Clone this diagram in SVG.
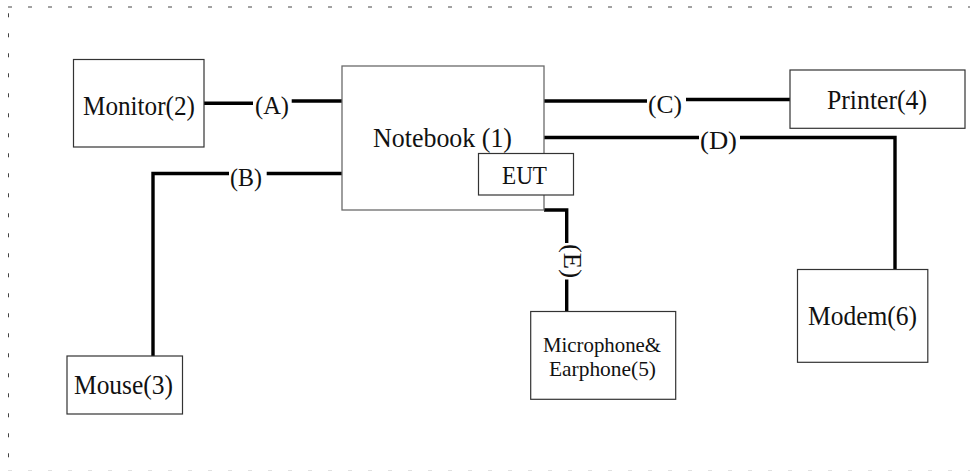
<svg xmlns="http://www.w3.org/2000/svg" width="970" height="471" viewBox="0 0 970 471">
<style>
.bg{fill:#ffffff}
.frame{stroke:#444;stroke-width:1;fill:none;stroke-dasharray:4 16}
.box{fill:#ffffff;stroke:#333;stroke-width:1.2}
.box2{fill:#ffffff;stroke:#6a6a6a;stroke-width:1.3}
.wire{stroke:#000;stroke-width:3.4;fill:none;stroke-linejoin:miter;stroke-linecap:butt}
text{font-family:'Liberation Serif',serif;fill:#111}
.lbl{font-size:27px}
.cl{font-size:26px}
.sm{font-size:21px}
</style>
<rect class="bg" x="0" y="0" width="970" height="471"/>
<g id="frame">
<line class="frame" x1="8" y1="7" x2="970" y2="7"/>
<line class="frame" x1="8.5" y1="13.3" x2="8.5" y2="471"/>
<line class="frame" x1="8" y1="470.5" x2="970" y2="470.5" style="stroke:#e0e0e0"/>
</g>
<g id="connectors">
<path class="wire" d="M204,103.3 H253"/>
<path class="wire" d="M291.7,101 H342"/>
<text class="cl" x="255" y="113.5" textLength="34" lengthAdjust="spacingAndGlyphs">(A)</text>
<path class="wire" d="M229,173.5 H153 V356"/>
<path class="wire" d="M266.7,173.5 H342"/>
<text class="cl" x="230" y="185.5" textLength="32" lengthAdjust="spacingAndGlyphs">(B)</text>
<path class="wire" d="M544,101 H647"/>
<path class="wire" d="M686,99.5 H790"/>
<text class="cl" x="648" y="112.5" textLength="34" lengthAdjust="spacingAndGlyphs">(C)</text>
<path class="wire" d="M544,137.5 H699"/>
<path class="wire" d="M740,137.5 H895 V269.5"/>
<text class="cl" x="700" y="148.5" textLength="37" lengthAdjust="spacingAndGlyphs">(D)</text>
<path class="wire" d="M544,210 H566.7 V243"/>
<path class="wire" d="M566.7,279.5 V311.5"/>
<text class="cl" transform="translate(570,261) rotate(90)" x="0" y="6.3" text-anchor="middle" textLength="34" lengthAdjust="spacingAndGlyphs">(E)</text>
</g>
<g id="notebook">
<rect class="box2" x="342" y="66" width="202" height="144"/>
<text class="lbl" x="373" y="147" textLength="139" lengthAdjust="spacingAndGlyphs">Notebook (1)</text>
</g>
<g id="eut">
<rect class="box" x="478.5" y="153.5" width="95" height="41.5"/>
<text class="cl" x="502" y="184" textLength="45" lengthAdjust="spacingAndGlyphs">EUT</text>
</g>
<g id="monitor">
<rect class="box" x="73.5" y="59.5" width="130.5" height="87.5"/>
<text class="lbl" x="83" y="114.5" textLength="112" lengthAdjust="spacingAndGlyphs">Monitor(2)</text>
</g>
<g id="mouse">
<rect class="box" x="67" y="356" width="115.5" height="58"/>
<text class="lbl" x="74" y="393.5" textLength="99" lengthAdjust="spacingAndGlyphs">Mouse(3)</text>
</g>
<g id="printer">
<rect class="box" x="790" y="70" width="175" height="58.3"/>
<text class="lbl" x="827" y="108.5" textLength="100" lengthAdjust="spacingAndGlyphs">Printer(4)</text>
</g>
<g id="microphone">
<rect class="box" x="530.7" y="311.5" width="145" height="87.8"/>
<text class="sm" x="543" y="351.7" textLength="118" lengthAdjust="spacingAndGlyphs">Microphone&amp;</text>
<text class="sm" x="549" y="376.3" textLength="107" lengthAdjust="spacingAndGlyphs">Earphone(5)</text>
</g>
<g id="modem">
<rect class="box" x="797.5" y="269.5" width="130.3" height="92.8"/>
<text class="lbl" x="808" y="325" textLength="109" lengthAdjust="spacingAndGlyphs">Modem(6)</text>
</g>
</svg>
